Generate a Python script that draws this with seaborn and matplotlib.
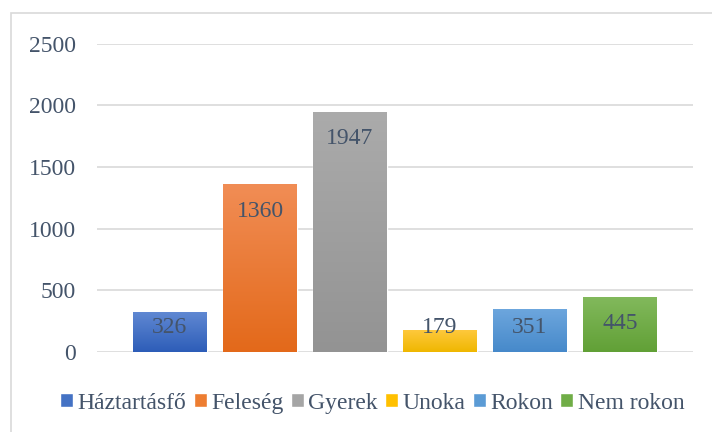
import matplotlib
matplotlib.use("Agg")
import matplotlib.pyplot as plt
from matplotlib.colors import LinearSegmentedColormap
from matplotlib.patches import Patch, Rectangle
import numpy as np
import pandas as pd
import seaborn as sns

# data
categories = ["Háztartásfő", "Feleség", "Gyerek", "Unoka", "Rokon", "Nem rokon"]
values = [326, 1360, 1947, 179, 351, 445]
yticks = [0, 500, 1000, 1500, 2000, 2500]

base_colors = ["#4472c4", "#ed7d31", "#a5a5a5", "#ffc000", "#5b9bd5", "#70ad47"]
top_colors = ["#6189d3", "#f18d55", "#ababab", "#ffc93f", "#6ea7de", "#82b95c"]
bottom_colors = ["#2d5db8", "#e3691a", "#939393", "#efb700", "#4689ca", "#61a036"]
text_color = "#44546a"

sns.set_theme(style="white")
plt.rcParams["font.family"] = ["Liberation Serif", "DejaVu Serif"]

df = pd.DataFrame({"group": categories, "count": values})

fig = plt.figure(figsize=(7.12, 4.32), dpi=100)
ax = fig.add_axes([97 / 712, 1 - 352 / 432, 596 / 712, (352 - 43.5) / 432])
sns.barplot(data=df, x="group", y="count", hue="group", palette=base_colors,
            width=0.822, saturation=1, legend=False, ax=ax)

# vertical gradient fill on each bar, like the Excel original
grad = np.linspace(0, 1, 256).reshape(-1, 1)
for patch, top, bottom in zip(ax.patches, top_colors, bottom_colors):
    x0, y0 = patch.get_x(), patch.get_y()
    w, h = patch.get_width(), patch.get_height()
    cmap = LinearSegmentedColormap.from_list("bar", [bottom, top])
    im = ax.imshow(grad, extent=[x0, x0 + w, y0, y0 + h], origin="lower",
                   aspect="auto", cmap=cmap, zorder=3)
    im.set_clip_path(patch)

# value labels inside the bar ends
for i, v in enumerate(values):
    ax.text(i, max(v - 218, 202), str(v), ha="center", va="center",
            fontsize=17, color=text_color, zorder=5)

ax.set_xlim(-0.811, 5.811)
ax.set_ylim(0, 2500)
ax.set_yticks(yticks)
ax.set_xticks([])
ax.set_xlabel("")
ax.set_ylabel("")
ax.set_axisbelow(True)
ax.yaxis.grid(True, color="#d9d9d9", linewidth=1.2)
ax.tick_params(axis="y", length=0, pad=15, labelsize=17, labelcolor=text_color)
for s in ax.spines.values():
    s.set_visible(False)

# chart frame (only left and top edges fall inside the image)
fig.patches.append(Rectangle((11 / 712, -0.1), 1.2, 1 - 13 / 432 + 0.1,
                             transform=fig.transFigure, fill=False,
                             edgecolor="#d9d9d9", linewidth=1.2))

handles = [Patch(facecolor=c, label=l) for c, l in zip(base_colors, categories)]
fig.legend(handles=handles, loc="center", bbox_to_anchor=(0.523, 0.067), ncol=6,
           frameon=False, prop={"family": ["Liberation Serif"], "size": 17},
           handlelength=0.55, handleheight=0.55,
           handletextpad=0.2, columnspacing=0.3, labelcolor=text_color)

fig.savefig("out.png", dpi=100)
